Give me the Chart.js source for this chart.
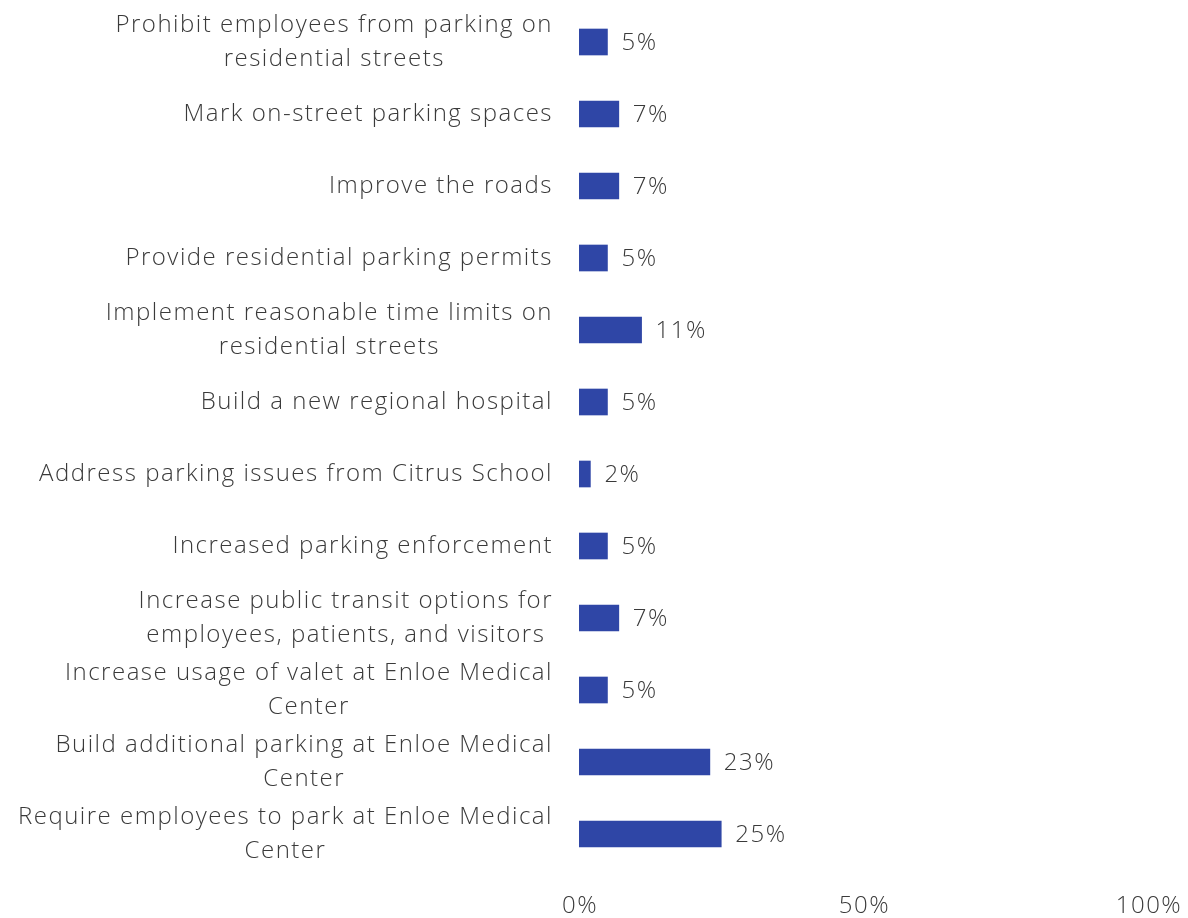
<!DOCTYPE html>
<html>
<head>
<meta charset="utf-8">
<script src="https://cdn.jsdelivr.net/npm/chart.js@4/dist/chart.umd.min.js"></script>
<style>
  html, body { margin: 0; padding: 0; background: #fff; }
  #wrap { width: 1188px; height: 918px; }
</style>
</head>
<body>
<div id="wrap"><canvas id="barChart"></canvas></div>
<script>
// survey answers, top to bottom
var answers = [
    ['Prohibit employees from parking on', 'residential streets'],
    ['Mark on-street parking spaces'],
    ['Improve the roads'],
    ['Provide residential parking permits'],
    ['Implement reasonable time limits on', 'residential streets'],
    ['Build a new regional hospital'],
    ['Address parking issues from Citrus School'],
    ['Increased parking enforcement'],
    ['Increase public transit options for', 'employees, patients, and visitors'],
    ['Increase usage of valet at Enloe Medical', 'Center'],
    ['Build additional parking at Enloe Medical', 'Center'],
    ['Require employees to park at Enloe Medical', 'Center']
];
var shares = [5, 7, 7, 5, 11, 5, 2, 5, 7, 5, 23, 25];
var xTicks = [0, 50, 100];

var textColor = '#3a3a3a';
var fontFamily = '"Open Sans", sans-serif';
var font = '300 24px ' + fontFamily;
var spacing = '1.5px';

// answer text left of the axis: lines centred on each other, block right aligned
var answerLabels = {
    id: 'answerLabels',
    afterDraw: function(chart) {
        var ctx = chart.ctx;
        var yScale = chart.scales.y;
        var right = chart.chartArea.left - 26;
        ctx.save();
        ctx.font = font;
        ctx.letterSpacing = spacing;
        ctx.fillStyle = textColor;
        ctx.textAlign = 'center';
        ctx.textBaseline = 'middle';
        answers.forEach(function(lines, i) {
            var y = yScale.getPixelForTick(i);
            var w = Math.max.apply(null, lines.map(function(l) { return ctx.measureText(l).width; }));
            var top = y - (lines.length - 1) * 34 / 2;
            lines.forEach(function(l, j) {
                ctx.fillText(l, right - w / 2, top + j * 34);
            });
        });
        ctx.restore();
    }
};

// writes "N%" just right of each bar, and the x tick labels
var valueLabels = {
    id: 'valueLabels',
    afterDatasetsDraw: function(chart) {
        var ctx = chart.ctx;
        var meta = chart.getDatasetMeta(0);
        var xScale = chart.scales.x;
        ctx.save();
        ctx.font = font;
        ctx.letterSpacing = spacing;
        ctx.fillStyle = textColor;
        ctx.textAlign = 'left';
        ctx.textBaseline = 'middle';
        meta.data.forEach(function(bar, i) {
            ctx.fillText(shares[i] + '%', bar.x + 14, bar.y + 1);
        });
        ctx.textAlign = 'center';
        xTicks.forEach(function(v) {
            ctx.fillText(v + '%', xScale.getPixelForValue(v) + 1, chart.chartArea.bottom + 36);
        });
        ctx.restore();
    }
};

var node = document.getElementById('barChart');
var myChart = new Chart(node, {
    type: 'bar',
    data: {
        labels: answers.map(function(a) { return a.join(' '); }),
        datasets: [{
            data: shares,
            backgroundColor: '#2f46a6',
            borderWidth: 0,
            barThickness: 26
        }]
    },
    options: {
        indexAxis: 'y',
        responsive: true,
        maintainAspectRatio: false,
        animation: false,
        layout: { padding: { top: 6, right: 40, bottom: 0, left: 0 } },
        plugins: {
            legend: { display: false },
            tooltip: { enabled: false }
        },
        scales: {
            x: {
                min: 0,
                max: 100,
                afterFit: function(scale) { scale.height = 48; },
                grid: { display: false, drawTicks: false },
                border: { display: false },
                ticks: { display: false }
            },
            y: {
                afterFit: function(scale) { scale.width = 579; },
                grid: { display: false, drawTicks: false },
                border: { display: false },
                ticks: { display: false }
            }
        }
    },
    plugins: [valueLabels, answerLabels]
});
</script>
</body>
</html>
